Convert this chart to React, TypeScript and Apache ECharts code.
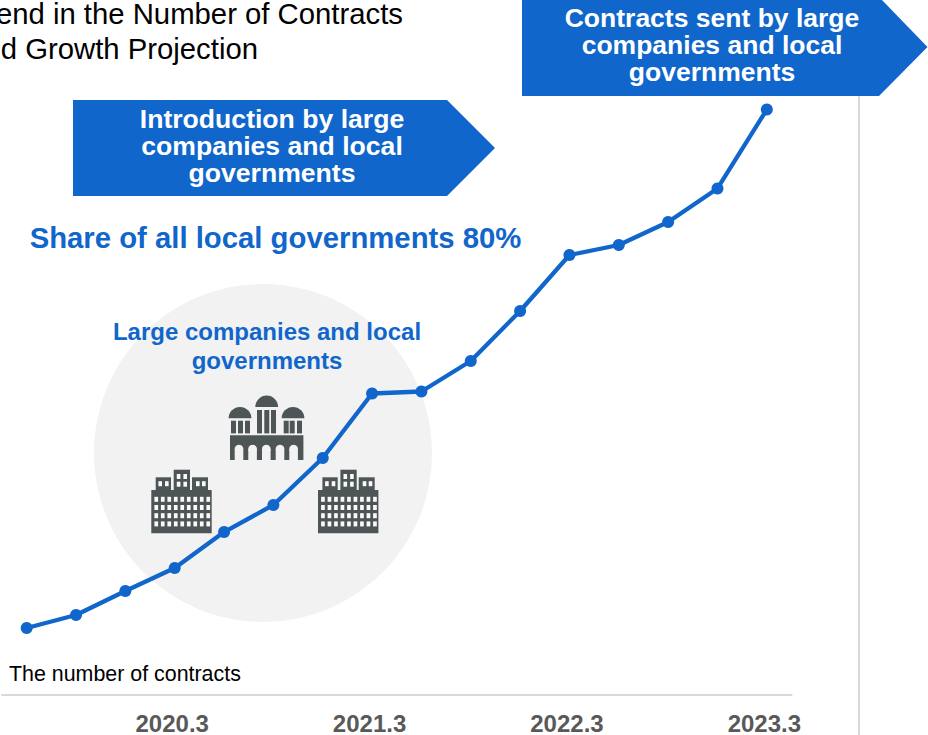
import React, { useEffect, useRef } from "react";
import * as echarts from "echarts";

const quarters = [
  "2019.6", "2019.9", "2019.12", "2020.3",
  "2020.6", "2020.9", "2020.12", "2021.3",
  "2021.6", "2021.9", "2021.12", "2022.3",
  "2022.6", "2022.9", "2022.12", "2023.3",
];
// Contract volume on an index scale of 0 to 100
const contractIndex = [9.64, 11.51, 14.96, 18.27, 23.45, 27.34, 34.1, 43.38, 43.67, 48.06, 55.25, 63.31, 64.75, 68.06, 72.88, 84.24];
const labelledQuarters = ["2020.3", "2021.3", "2022.3", "2023.3"];

const titleLines = ["Trend in the Number of Contracts", "and Growth Projection"];
const introLines = ["Introduction by large", "companies and local", "governments"];
const sentLines = ["Contracts sent by large", "companies and local", "governments"];
const shareText = "Share of all local governments 80%";
const circleLines = ["Large companies and local", "governments"];
const axisCaption = "The number of contracts";

const BLUE = "#1066ca";
const ICON = "#4d5557";
const DISC = "#f2f2f2";
const FONT = '"Liberation Sans", Arial, sans-serif';

const rect = (x: number, y: number, width: number, height: number, fill: string, z = 3) => ({
  type: "rect", z, shape: { x, y, width, height }, style: { fill },
});

const label = (
  text: string, x: number, y: number, size: number, fill: string,
  weight: string = "bold", align: string = "center",
) => ({
  type: "text", z: 6, x, y,
  style: { text, fill, font: `${weight} ${size}px ${FONT}`, textAlign: align, textVerticalAlign: "middle" },
});

// Several centred lines held in one text element, y being the middle of the block
const textBlock = (lines: string[], x: number, y: number, step: number, size: number, fill: string) => {
  const block: any = label(lines.join("\n"), x, y, size, fill);
  block.style.lineHeight = step;
  return block;
};

// Office block: two-storey skyline over a nine-by-four grid of windows
function officeBlock(dx: number) {
  const parts: any[] = [
    rect(dx + 151.3, 490, 60.4, 43.3, ICON),
    rect(dx + 155.7, 477.3, 15.3, 13, ICON),
    rect(dx + 173.7, 469.7, 16.3, 21, ICON),
    rect(dx + 192, 477.3, 16, 13, ICON),
  ];
  for (let row = 0; row < 4; row++) {
    for (let col = 0; col < 9; col++) {
      parts.push(rect(dx + 154.4 + col * 6.5, 496.8 + row * 8.2, 3.7, 5, "#fafafa", 4));
    }
  }
  [[158.4, 481.2], [165, 481.2], [196, 481.2], [202, 481.2], [176.8, 474], [183.4, 474], [176.8, 481.7], [183.4, 481.7]].forEach(([x, y]) =>
    parts.push(rect(dx + x, y, 3.6, 5, "#fafafa", 4)),
  );
  return parts;
}

// Domed civic hall: three domes on colonnades above an arcaded base
function civicHall() {
  const parts: any[] = [];
  const dome = (cx: number, cy: number) => ({
    type: "sector", z: 3,
    shape: { cx, cy, r: 11.4, r0: 0, startAngle: Math.PI, endAngle: Math.PI * 2 },
    style: { fill: ICON },
  });
  parts.push(dome(240, 418.3), dome(266.7, 407), dome(293, 418.3));
  [231, 238, 245, 283.7, 289.7, 297].forEach((x) => parts.push(rect(x, 420.7, 5, 12.7, ICON)));
  [257, 264.3, 271].forEach((x) => parts.push(rect(x, 410, 5, 23.4, ICON)));
  parts.push(rect(230, 435.3, 73.4, 24.7, ICON));
  [234.7, 248.3, 262, 275.7, 289.3].forEach((x) => {
    parts.push(rect(x, 449, 8.6, 11, DISC, 4));
    parts.push({ type: "circle", z: 4, shape: { cx: x + 4.3, cy: 449, r: 4.3 }, style: { fill: DISC } });
  });
  return parts;
}

export default function App() {
  const host = useRef<HTMLDivElement>(null);

  useEffect(() => {
    const chart = echarts.init(host.current!, undefined, { renderer: "svg" });
    chart.setOption({
      animation: false,
      backgroundColor: "#ffffff",
      grid: { left: 2, right: 136.5, top: 0, height: 695 },
      xAxis: {
        type: "category",
        data: quarters,
        boundaryGap: true,
        axisLine: { lineStyle: { color: "#d9d9d9", width: 2 } },
        axisTick: { show: false },
        axisLabel: {
          interval: (_: number, value: string) => labelledQuarters.includes(value),
          color: "#595959",
          fontFamily: FONT,
          fontWeight: "bold",
          fontSize: 24,
          margin: 16,
          padding: [0, 5, 0, 0],
        },
      },
      yAxis: { type: "value", min: 0, max: 100, show: false },
      series: [
        {
          type: "line",
          data: contractIndex,
          z: 2,
          symbol: "circle",
          symbolSize: 12,
          lineStyle: { color: BLUE, width: 4.3 },
          itemStyle: { color: BLUE },
        },
      ],
      graphic: {
        elements: [
          { type: "circle", z: 0, shape: { cx: 263, cy: 453, r: 169 }, style: { fill: DISC } },
          { type: "line", z: 0, shape: { x1: 859, y1: 96, x2: 859, y2: 735 }, style: { stroke: "#d9d9d9", lineWidth: 2 } },
          ...officeBlock(0),
          ...officeBlock(166.7),
          ...civicHall(),
          {
            type: "polygon", z: 5,
            shape: { points: [[73, 100], [447, 100], [495, 148], [447, 196], [73, 196]] },
            style: { fill: BLUE },
          },
          {
            type: "polygon", z: 5,
            shape: { points: [[522, -2], [880, -2], [927.5, 47], [879, 96], [522, 96]] },
            style: { fill: BLUE },
          },
          label(titleLines[0], 403, 13, 29.3, "#000000", "normal", "right"),
          label(titleLines[1], 258, 48, 29.3, "#000000", "normal", "right"),
          textBlock(introLines, 272, 146, 27, 26.6, "#ffffff"),
          textBlock(sentLines, 712, 45, 27, 26.5, "#ffffff"),
          label(shareText, 275.5, 237.5, 29.3, BLUE),
          textBlock(circleLines, 267, 346, 29, 24, BLUE),
          label(axisCaption, 9, 673.5, 21.4, "#000000", "normal", "left"),
        ],
      },
    });
    return () => chart.dispose();
  }, []);

  return <div ref={host} style={{ position: "absolute", left: 0, top: 0, width: 928, height: 735 }} />;
}
